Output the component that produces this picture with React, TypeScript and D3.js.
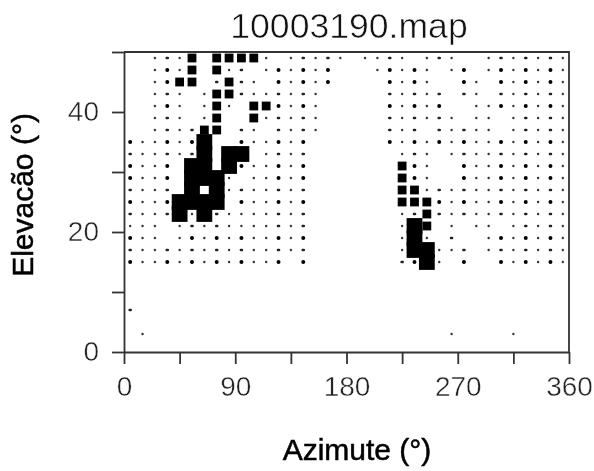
import React, { useEffect, useRef } from "react";
import * as d3 from "d3";

const title = "10003190.map";
const xLabel = "Azimute (°)";
const yLabel = "Elevacão (°)";

const xTicks = [0, 45, 90, 135, 180, 225, 270, 315, 360];
const xTickLabels = [0, 90, 180, 270, 360];
const yTicks = [0, 10, 20, 30, 40, 50];
const yTickLabels = [0, 20, 40];

// cell centres in degrees
const azimuths = d3.range(36).map((i) => 5 + i * 10);
const elevations = [49, 47, 45, 43, 41, 39, 37, 35, 33, 31, 29, 27, 25, 23, 21, 19, 17, 15, 7, 3];

// one string per elevation, one digit per azimuth: 0 empty, 1-3 dots, 4 small block, 5 big block
const levels = [
  "001214044441012121011210121001212121",
  "001314041201313130001313101301313131",
  "001344024210313130000313100310313131",
  "001210144211212100000212120210212121",
  "001310141044313100000313130011313131",
  "001210140041212100000212121011012121",
  "001212440210212100000212021211012121",
  "311313500311313000000313131311313131",
  "211212505501212000000012101211212121",
  "311305505311313000000043100311313131",
  "311305551011313000000043100311313131",
  "211205051211212000000044121211212121",
  "311355550311313000000044431311313131",
  "211251521111212000000012421211212121",
  "111012121111212000000015401011012121",
  "311013131311313000000015102001313131",
  "211212121211212000000015511201212121",
  "311313131311303000000023510300313131",
  "200000000000000000000000000000000000",
  "010000000000000000000000001000010000",
];

const levelWidths = [0, 2.4, 3.6, 4, 8.8, 15.8];
const levelHeights = [0, 2.4, 2.4, 4, 8.8, 15.8];
const levelFill = ["none", "#333", "#222", "#000", "#000", "#000"];

export default function App() {
  const ref = useRef<SVGSVGElement | null>(null);

  useEffect(() => {
    const svg = d3.select(ref.current);
    svg.selectAll("*").remove();

    const x = d3.scaleLinear().domain([0, 360]).range([124, 569]);
    const y = d3.scaleLinear().domain([0, 50]).range([352, 52]);

    const cells = elevations.flatMap((el, r) =>
      azimuths.map((az, c) => ({ az, el, level: +levels[r][c] }))
    ).filter((d) => d.level > 0);

    svg
      .append("g")
      .selectAll("rect")
      .data(cells)
      .join("rect")
      .attr("x", (d) => x(d.az) - levelWidths[d.level] / 2)
      .attr("y", (d) => y(d.el) - levelHeights[d.level] / 2)
      .attr("width", (d) => levelWidths[d.level])
      .attr("height", (d) => levelHeights[d.level])
      .attr("rx", (d) => (d.level < 4 ? levelHeights[d.level] / 2 : 0))
      .attr("fill", (d) => levelFill[d.level]);

    const xAxis = svg
      .append("g")
      .attr("transform", `translate(0,${y(0)})`)
      .call(
        d3
          .axisBottom(x)
          .tickValues(xTicks)
          .tickSize(12)
          .tickSizeOuter(0)
          .tickPadding(12)
          .tickFormat((d) => (xTickLabels.includes(+d) ? String(d) : ""))
      );

    const yAxis = svg
      .append("g")
      .attr("transform", `translate(${x(0)},0)`)
      .call(
        d3
          .axisLeft(y)
          .tickValues(yTicks)
          .tickSize(12)
          .tickSizeOuter(0)
          .tickPadding(13)
          .tickFormat((d) => (yTickLabels.includes(+d) ? String(d) : ""))
      );

    [xAxis, yAxis].forEach((axis) => {
      axis.selectAll("path,line").attr("stroke", "#333").attr("stroke-width", 1.8);
      axis
        .selectAll("text")
        .attr("fill", "#222")
        .attr("stroke", "#fff")
        .attr("stroke-width", 0.45)
        .style("font", "28px 'Liberation Sans'");
    });

    // top and right frame
    svg
      .append("path")
      .attr("d", `M${x(0)},${y(50)}H${x(360)}V${y(0)}`)
      .attr("fill", "none")
      .attr("stroke", "#333")
      .attr("stroke-width", 1.8);

    svg
      .append("text")
      .attr("x", 349)
      .attr("y", 38)
      .attr("text-anchor", "middle")
      .attr("fill", "#111")
      .attr("stroke", "#fff")
      .attr("stroke-width", 0.6)
      .style("font", "35.6px 'Liberation Sans'")
      .text(title);

    svg
      .append("text")
      .attr("x", 357)
      .attr("y", 460)
      .attr("text-anchor", "middle")
      .attr("fill", "#000")
      .attr("stroke", "#000")
      .attr("stroke-width", 0.5)
      .style("font", "30px 'Liberation Sans'")
      .text(xLabel);

    svg
      .append("text")
      .attr("transform", "translate(33,195) rotate(-90)")
      .attr("text-anchor", "middle")
      .attr("fill", "#000")
      .attr("stroke", "#000")
      .attr("stroke-width", 0.5)
      .style("font", "30px 'Liberation Sans'")
      .text(yLabel);
  }, []);

  return (
    <svg
      ref={ref}
      width={594}
      height={471}
      style={{ position: "absolute", left: 0, top: 0, background: "#fff", filter: "blur(0.4px)" }}
    />
  );
}
